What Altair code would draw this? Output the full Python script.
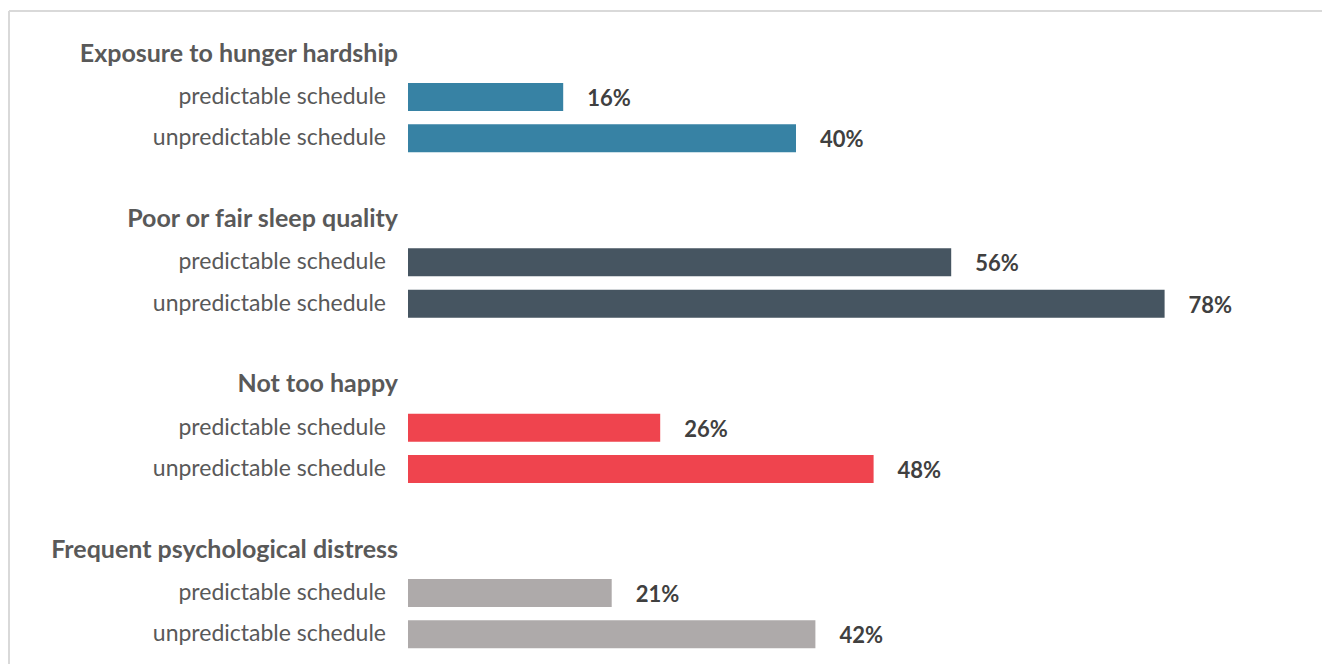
import altair as alt
import pandas as pd

groups = ["Exposure to hunger hardship", "Poor or fair sleep quality",
          "Not too happy", "Frequent psychological distress"]
colors = ["#3782A4", "#465561", "#EF444E", "#AEAAAA"]
predictable = [16, 56, 26, 21]
unpredictable = [40, 78, 48, 42]
sub_labels = ["predictable schedule", "unpredictable schedule"]

rows = []
for i, g in enumerate(groups):
    rows.append(dict(row=4 * i, label=g, kind="header", group=g, value=None, vlabel=""))
    for j, (s, v) in enumerate(zip(sub_labels, [predictable[i], unpredictable[i]])):
        rows.append(dict(row=4 * i + 1 + j, label=s, kind="sub", group=g,
                         value=v, vlabel=f"{v}%"))
df = pd.DataFrame(rows)
subs = df[df.kind == "sub"]
heads = df[df.kind == "header"]

yscale = alt.Scale(domain=list(range(15)), paddingInner=0, paddingOuter=0)
xscale = alt.Scale(domain=[0, 80])

bars = alt.Chart(subs).mark_bar(size=28).encode(
    x=alt.X("value:Q", scale=xscale, axis=None),
    y=alt.Y("row:O", scale=yscale,
            axis=alt.Axis(labels=False, ticks=False, title=None,
                          domainColor="#d9d9d9", domainWidth=1.5)),
    color=alt.Color("group:N", scale=alt.Scale(domain=groups, range=colors), legend=None),
)

values = alt.Chart(subs).mark_text(
    align="left", baseline="middle", dx=24, dy=2, font="Lato", fontSize=22,
    fontWeight="bold", color="#404040"
).encode(
    x=alt.X("value:Q", scale=xscale, axis=None),
    y=alt.Y("row:O", scale=yscale, axis=None),
    text="vlabel:N",
)

sub_text = alt.Chart(subs).mark_text(
    align="right", baseline="middle", font="Lato", fontSize=23,
    color="#595959"
).encode(
    x=alt.value(-22),
    y=alt.Y("row:O", scale=yscale, axis=None),
    text="label:N",
)

head_text = alt.Chart(heads).mark_text(
    align="right", baseline="middle", dy=-2, font="Lato", fontSize=25,
    fontWeight="bold", color="#595959"
).encode(
    x=alt.value(-10),
    y=alt.Y("row:O", scale=yscale, axis=None),
    text="label:N",
)

one = pd.DataFrame({"a": [0]})
frame_top = alt.Chart(one).mark_rule(color="#d9d9d9", strokeWidth=2).encode(
    x=alt.value(-399), x2=alt.value(914), y=alt.value(-24))
frame_left = alt.Chart(one).mark_rule(color="#d9d9d9", strokeWidth=2).encode(
    x=alt.value(-399), y=alt.value(-24), y2=alt.value(629))

chart = alt.layer(frame_top, frame_left, bars, values, sub_text, head_text).properties(
    width=776, height=620,
    padding={"left": 400, "top": 27, "right": 138, "bottom": 9},
    autosize=alt.AutoSizeParams(type="none"),
).configure_view(stroke=None)

chart.save("out.html", embed_options={"renderer": "svg", "actions": False})
